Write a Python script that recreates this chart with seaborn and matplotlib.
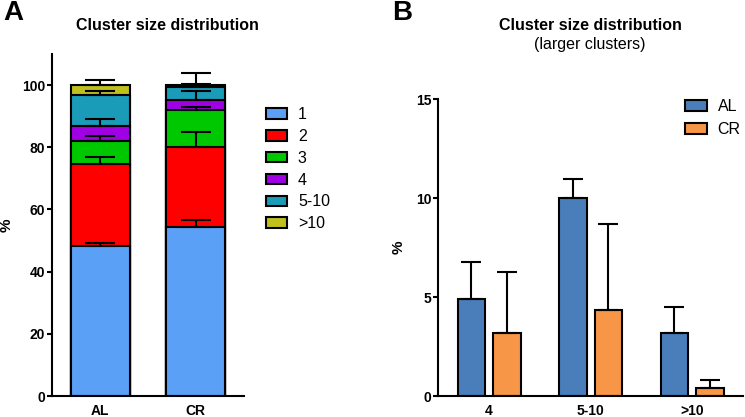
import matplotlib
matplotlib.use("Agg")
import matplotlib.pyplot as plt
from matplotlib.patches import Patch
import numpy as np
import pandas as pd
import seaborn as sns

# panel A - stacked cluster size distribution (%)
groups = ["AL", "CR"]
sizes = ["1", "2", "3", "4", "5-10", ">10"]
al_pct = [48.3, 26.4, 7.3, 4.9, 10.0, 3.2]
cr_pct = [54.4, 25.6, 11.9, 3.2, 4.35, 0.45]
al_err = [1.0, 2.2, 1.6, 2.1, 1.2, 1.4]
cr_err = [2.1, 4.9, 1.2, 3.1, 4.5, 0.3]
size_colors = ["#5aa0f7", "#ff0000", "#00c800", "#a000e4", "#1a9bb8", "#bfbf1e"]

# panel B - larger clusters only
large_sizes = ["4", "5-10", ">10"]
al_large = [4.9, 10.0, 3.17]
cr_large = [3.17, 4.35, 0.42]
al_large_err = [1.86, 0.97, 1.35]
cr_large_err = [3.12, 4.33, 0.39]
group_colors = ["#4a7ebb", "#f79646"]

sns.set_style("ticks")
plt.rcParams["font.family"] = ["Liberation Sans", "DejaVu Sans"]
plt.rcParams["axes.linewidth"] = 1.5
for key in ["text.color", "axes.labelcolor", "xtick.color", "ytick.color", "axes.edgecolor"]:
    plt.rcParams[key] = "black"

W, H = 745, 417
fig = plt.figure(figsize=(W / 100, H / 100), dpi=100)


def style_axes(ax):
    sns.despine(ax=ax)
    ax.tick_params(axis="y", length=3.6, width=1.5, pad=1.5, labelsize=10)
    ax.tick_params(axis="x", length=0, pad=6, labelsize=10)
    for lab in ax.get_xticklabels() + ax.get_yticklabels():
        lab.set_fontweight("bold")
    ax.set_xlabel("")


# ---- panel A ----
df_a = pd.DataFrame({
    "group": np.repeat(groups, len(sizes)),
    "size": sizes * 2,
    "pct": al_pct + cr_pct,
    "err": al_err + cr_err,
})
df_a["top"] = df_a.groupby("group")["pct"].cumsum()

ax_a = fig.add_axes([52 / W, 21 / H, 192 / W, 342 / H])
# draw tallest (cumulative) first so lower segments sit on top
for size, color in reversed(list(zip(sizes, size_colors))):
    sub = df_a[df_a["size"] == size]
    sns.barplot(data=sub, x="group", y="top", order=groups, color=color,
                saturation=1, width=0.62, edgecolor="black", linewidth=1.5,
                errorbar=None, ax=ax_a)

xpos = df_a["group"].map({g: i for i, g in enumerate(groups)})
ax_a.errorbar(xpos, df_a["top"], yerr=[np.zeros(len(df_a)), df_a["err"]],
              fmt="none", ecolor="black", elinewidth=1.5, capsize=11,
              capthick=1.5, zorder=5)
ax_a.set_ylim(0, 110)
ax_a.set_xlim(-0.507, 1.509)
ax_a.set_yticks([0, 20, 40, 60, 80, 100])
ax_a.set_ylabel("%", fontsize=11, fontweight="bold")
ax_a.yaxis.set_label_coords(-0.2, 0.5)
style_axes(ax_a)

handles_a = [Patch(facecolor=c, edgecolor="black", linewidth=1.5) for c in size_colors]
fig.legend(handles_a, sizes, loc="upper left", bbox_to_anchor=(266 / W, 1 - 107 / H),
           frameon=False, fontsize=11.5, handlelength=1.3, handleheight=0.65,
           handletextpad=0.7, labelspacing=0.43, borderpad=0, borderaxespad=0)

# ---- panel B ----
df_b = pd.DataFrame({
    "size": large_sizes * 2,
    "group": np.repeat(groups, len(large_sizes)),
    "pct": al_large + cr_large,
    "err": al_large_err + cr_large_err,
})

ax_b = fig.add_axes([438.3 / W, 21 / H, 304.7 / W, 296.7 / H])
sns.barplot(data=df_b, x="size", y="pct", hue="group", order=large_sizes,
            hue_order=groups, palette=group_colors, saturation=1, width=0.7,
            gap=0.23, edgecolor="black", linewidth=1.5, errorbar=None,
            legend=False, ax=ax_b)
bars = list(ax_b.patches)
bx = [b.get_x() + b.get_width() / 2 for b in bars]
by = [b.get_height() for b in bars]
ax_b.errorbar(bx, by, yerr=[np.zeros(len(df_b)), df_b["err"]], fmt="none",
              ecolor="black", elinewidth=1.5, capsize=7.2, capthick=1.5, zorder=5)
ax_b.set_ylim(0, 15)
ax_b.set_xlim(-0.5, 2.5)
ax_b.set_yticks([0, 5, 10, 15])
ax_b.set_ylabel("%", fontsize=11, fontweight="bold")
ax_b.yaxis.set_label_coords(-0.106, 0.5)
style_axes(ax_b)

handles_b = [Patch(facecolor=c, edgecolor="black", linewidth=1.5) for c in group_colors]
fig.legend(handles_b, groups, loc="upper left", bbox_to_anchor=(685 / W, 1 - 99 / H),
           frameon=False, fontsize=11.5, handlelength=1.35, handleheight=0.65,
           handletextpad=0.7, labelspacing=0.5, borderpad=0, borderaxespad=0)

# titles and panel letters
fig.text(167 / W, 1 - 25 / H, "Cluster size distribution", ha="center", va="center",
         fontsize=11.5, fontweight="bold")
fig.text(590 / W, 1 - 25 / H, "Cluster size distribution", ha="center", va="center",
         fontsize=11.5, fontweight="bold")
fig.text(590 / W, 1 - 45 / H, "(larger clusters)", ha="center", va="center", fontsize=11.5)
fig.text(3 / W, 1 - 13 / H, "A", ha="left", va="center", fontsize=20, fontweight="bold")
fig.text(392 / W, 1 - 13 / H, "B", ha="left", va="center", fontsize=20, fontweight="bold")

fig.savefig("out.png", dpi=100)
